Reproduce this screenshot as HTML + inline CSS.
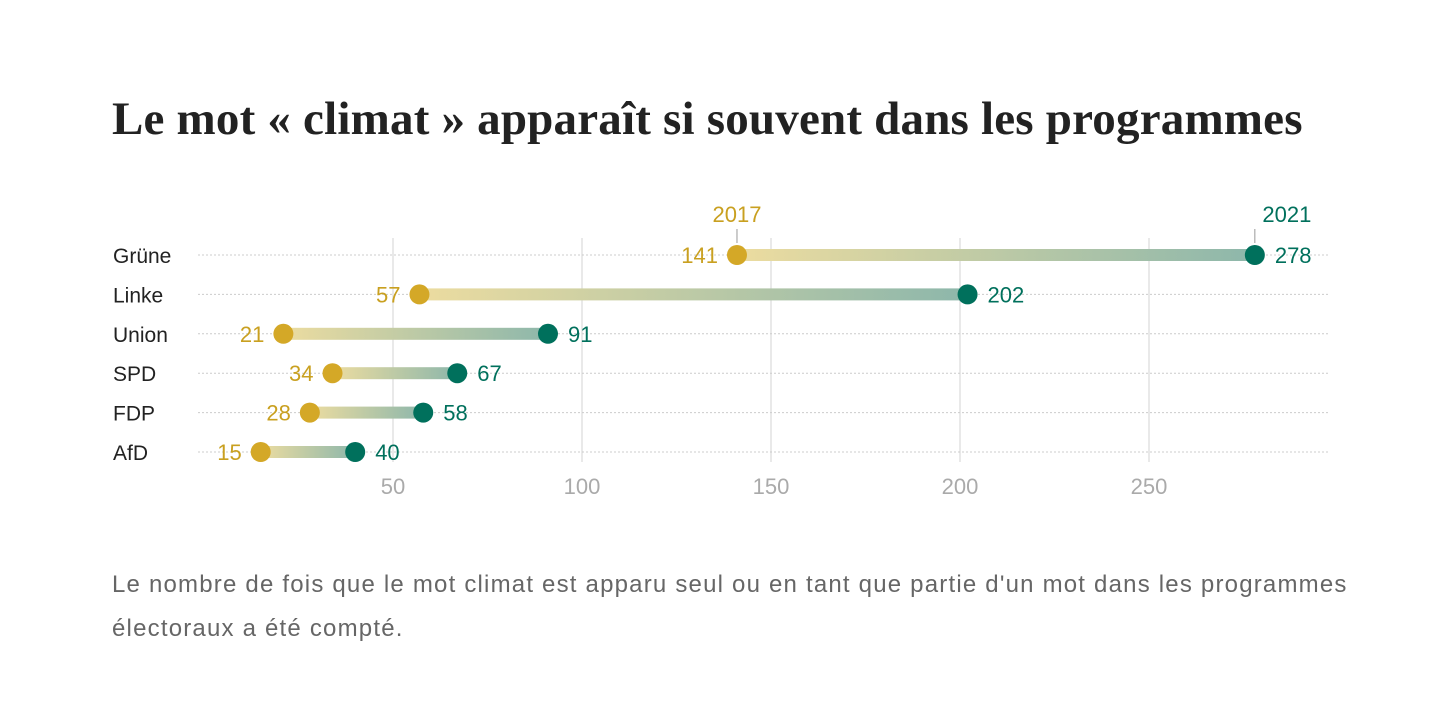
<!DOCTYPE html>
<html><head><meta charset="utf-8"><style>
body{margin:0;background:#fff;width:1440px;height:708px;overflow:hidden;font-family:"Liberation Sans",sans-serif}
h1{position:absolute;left:112px;top:92px;margin:0;font-family:"Liberation Serif",serif;font-weight:bold;font-size:47px;color:#222;letter-spacing:0.2px;white-space:nowrap}
.note{position:absolute;left:112px;top:563px;width:1280px;font-size:24px;letter-spacing:1.2px;line-height:44px;color:#666;white-space:nowrap}
</style></head><body>
<h1>Le mot « climat » apparaît si souvent dans les programmes</h1>
<svg id="c" width="1440" height="708" style="position:absolute;left:0;top:0"></svg>
<div class="note">Le nombre de fois que le mot climat est apparu seul ou en tant que partie d'un mot dans les programmes<br>électoraux a été compté.</div>
<script>
const parties=["Grüne","Linke","Union","SPD","FDP","AfD"];
const v2017=[141,57,21,34,28,15];
const v2021=[278,202,91,67,58,40];
const ticks=[50,100,150,200,250];
const NS="http://www.w3.org/2000/svg";
const svg=document.getElementById("c");
const x=v=>204+v*3.78;
const y=i=>255+i*39.4;
const Y="#d4a827",T="#00705c";
function el(t,a,txt){const e=document.createElementNS(NS,t);for(const k in a)e.setAttribute(k,a[k]);if(txt!==undefined)e.textContent=txt;svg.appendChild(e);return e;}
const defs=el("defs",{});
const g=document.createElementNS(NS,"linearGradient");g.setAttribute("id","gr");
g.innerHTML='<stop offset="0" stop-color="#ecdca0"/><stop offset="1" stop-color="#8db7ab"/>';defs.appendChild(g);
ticks.forEach(t=>{
const l=el("line",{x1:x(t),x2:x(t),y1:238,y2:462,stroke:"#e2e2e2","stroke-width":1.5});


const tx=el("text",{x:x(t),y:494,"text-anchor":"middle","font-size":22,fill:"#aaa"},t);


});
parties.forEach((p,i)=>{
const yy=y(i);
const gl=el("line",{x1:198,x2:1330,y1:yy,y2:yy,stroke:"#ccc","stroke-width":1,"stroke-dasharray":"2,2"});


const lb=el("text",{x:113,y:yy+8,"font-size":21,fill:"#222"},p);


const bar=el("rect",{x:x(v2017[i]),y:yy-6,width:x(v2021[i])-x(v2017[i]),height:12,fill:"url(#gr)"});


const d1=el("circle",{cx:x(v2017[i]),cy:yy,r:10,fill:Y});


const d2=el("circle",{cx:x(v2021[i]),cy:yy,r:10,fill:T});


const t1=el("text",{x:x(v2017[i])-19,y:yy+8,"text-anchor":"end","font-size":22,fill:"#c9a020"},v2017[i]);


const t2=el("text",{x:x(v2021[i])+20,y:yy+8,"font-size":22,fill:T},v2021[i]);


});
const a=el("text",{x:x(v2017[0]),y:222,"text-anchor":"middle","font-size":22,fill:"#c9a020"},"2017");


const b=el("text",{x:x(v2021[0])+32,y:222,"text-anchor":"middle","font-size":22,fill:T},"2021");


const l1=el("line",{x1:x(v2017[0]),x2:x(v2017[0]),y1:229,y2:243,stroke:"#999"});


const l2=el("line",{x1:x(v2021[0]),x2:x(v2021[0]),y1:229,y2:243,stroke:"#999"});


</script>
</body></html>
